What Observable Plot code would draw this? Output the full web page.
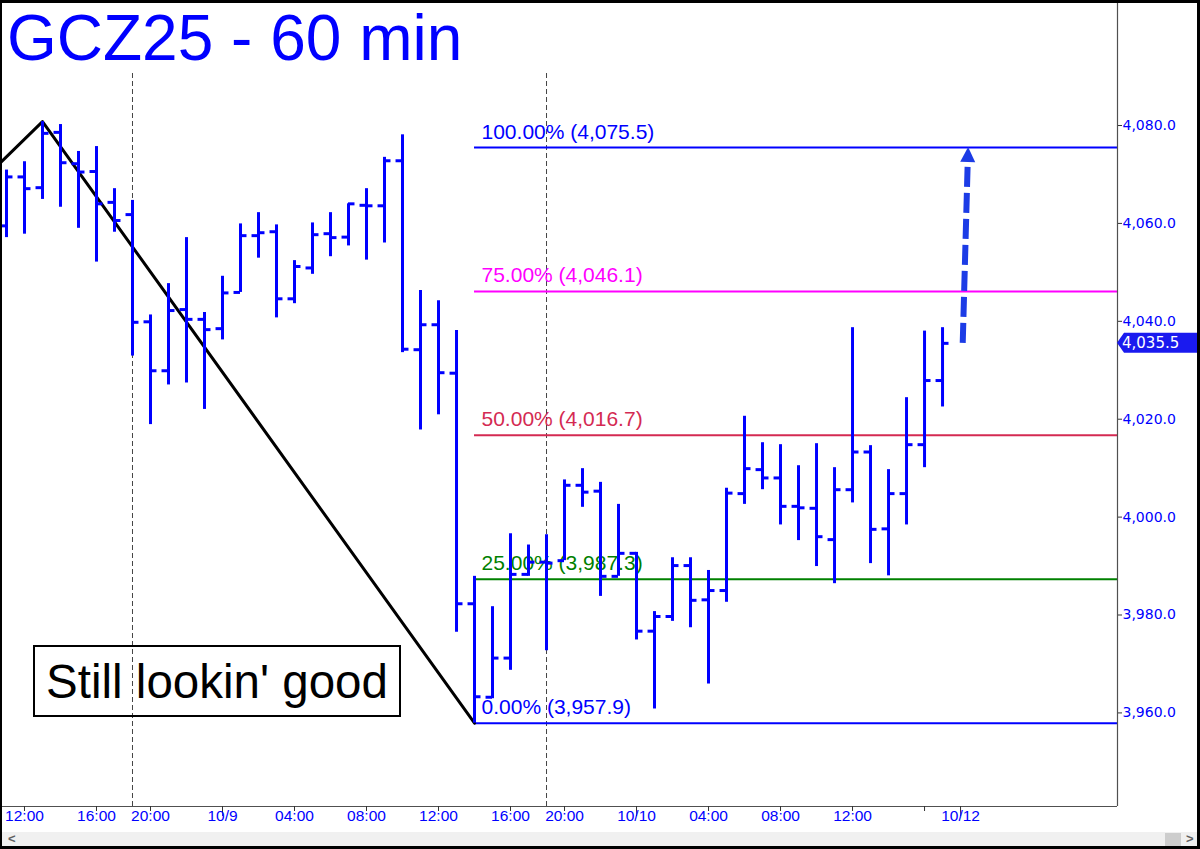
<!DOCTYPE html>
<html><head><meta charset="utf-8">
<script src="https://cdn.jsdelivr.net/npm/d3@7"></script>
<script src="https://cdn.jsdelivr.net/npm/@observablehq/plot@0.6"></script>
<style>
html,body{margin:0;padding:0;background:#fff;}
#wrap{position:relative;width:1200px;height:849px;overflow:hidden;font-family:"Liberation Sans",Arial,sans-serif;background:#fff;}
#chart{position:absolute;left:0;top:0;}
#title{position:absolute;left:7px;top:6px;font-size:64px;line-height:1;color:#0000ff;white-space:nowrap;}
#note{position:absolute;left:33px;top:645px;width:368px;height:72px;box-sizing:border-box;border:2px solid #000;display:flex;align-items:center;justify-content:center;font-size:47.5px;color:#000;white-space:nowrap;}
#scroll{position:absolute;left:0;top:832px;width:1200px;height:17px;background:#f0f0f0;}
#scroll .l{position:absolute;left:8px;top:-1px;font-size:13px;color:#606060;font-weight:bold;}
#scroll .r{position:absolute;left:1186px;top:-1px;font-size:13px;color:#606060;font-weight:bold;}
#scroll .thumb{position:absolute;left:1165px;top:1px;width:16px;height:13px;background:#cdcdcd;}
#border{position:absolute;left:0;top:0;width:1200px;height:849px;box-sizing:border-box;border:2px solid #000;border-top-width:3px;border-right-width:3px;border-bottom-width:3px;pointer-events:none;}
</style></head>
<body>
<div id="wrap">
  <div id="chart"></div>
  <div id="title">GCZ25 - 60 min</div>
  <div id="note">Still lookin' good</div>
  <div id="scroll"><span class="l">&lt;</span><div class="thumb"></div><span class="r">&gt;</span></div>
  <div id="border"></div>
</div>
<script>
// ---- Data (hourly OHLC, GCZ25) ----
const opens = [
  4059.5,4069.5,4067.3,4078.6,4072.2,4070.6,4064.3,4061.8,4039.9,4029.9,
  4042.4,4040.4,4038.5,4045.9,4057.5,4058.3,4044.6,4050.9,4057.9,4057.2,
  4063.7,4063.6,4072.8,4034.2,4039.3,4029.4,3982.3,3963.2,3971.2,3988.3,
  3990.8,3991.1,4006.5,4005.3,3987.9,3992.6,3976.7,3979.7,3990.1,3983.1,
  3985.0,4004.8,4009.7,4008.0,4002.2,4001.8,3995.4,4005.6,4013.3,3997.6,
  4004.8,4014.8,4027.9];
const highs = [
  4070.9,4072.6,4080.8,4080.2,4074.7,4075.7,4067.1,4064.7,4041.3,4047.7,
  4057.1,4041.8,4049.2,4059.9,4062.2,4059.7,4052.4,4060.1,4062.2,4064.0,
  4067.1,4073.5,4078.1,4046.3,4044.2,4038.1,3987.9,3981.7,3996.6,3994.3,
  3996.4,4007.6,4009.9,4007.1,4002.6,3992.8,3980.7,3991.7,3991.7,3989.1,
  4005.9,4020.6,4015.2,4014.8,4010.5,4015.0,4010.1,4038.7,4014.6,4009.7,
  4024.4,4038.0,4038.7];
const lows = [
  4057.1,4057.8,4064.9,4063.3,4059.0,4052.1,4058.2,4032.9,4018.9,4027.0,
  4027.4,4022.0,4036.2,4045.9,4052.9,4040.7,4043.6,4049.6,4053.2,4055.4,
  4052.5,4056.0,4033.6,4017.8,4020.9,3976.5,3957.9,3962.9,3968.7,3987.9,
  3972.7,3991.1,4002.0,3983.8,3987.9,3974.9,3960.8,3978.7,3977.4,3965.9,
  3982.6,4002.6,4005.6,3998.4,3995.2,3989.9,3986.4,4002.9,3990.5,3988.0,
  3998.4,4010.1,4022.5];
const closes = [
  4069.5,4067.1,4078.4,4072.4,4070.5,4064.0,4060.6,4039.8,4029.9,4042.2,
  4040.4,4038.3,4045.8,4057.5,4058.1,4044.6,4051.2,4057.7,4057.1,4064.0,
  4063.6,4072.8,4034.3,4039.3,4029.5,3982.3,3963.3,3971.2,3988.3,3990.8,
  3990.6,4006.5,4005.1,3987.9,3992.6,3976.7,3979.7,3990.1,3983.0,3985.0,
  4004.9,4009.9,4008.0,4002.2,4001.9,3996.0,4005.6,4013.3,3997.5,4004.8,
  4014.8,4027.9,4035.5];

// x-axis (bar index) ticks and labels
const tickIdx    = [1, 5, 8, 12, 16, 20, 24, 28, 31, 35, 39, 43, 47, 51, 53];
const tickLabels = ["12:00","16:00","20:00","10/9","04:00","08:00","12:00","16:00","20:00","10/10","04:00","08:00","12:00","","10/12"];
const dayTickIdx = [12, 35, 53];
const sessionBreaks = [7, 30];

// y-axis ticks
const yTicks = [3960, 3980, 4000, 4020, 4040, 4060, 4080];

// Fibonacci retracement from swing low (bar 26) to target
const fibPct   = [100, 75, 50, 25, 0];
const fibValue = [4075.5, 4046.1, 4016.7, 3987.3, 3957.9];
const fibStart = 26;

// zigzag pivots (bar index, price)
const zigIdx   = [-0.333, 2, 26];
const zigPrice = [4072.4, 4080.8, 3957.9];

// projected move arrow (bar index, price)
const arrowIdx   = [53.15, 53.45];
const arrowPrice = [4035.5, 4075.5];

// ---- Styles ----
const BLUE = "#0000ff";
const fibColors = {100: "#0000ff", 75: "#ff00ff", 50: "#d42a52", 25: "#008000", 0: "#0000ff"};
const xDomain = [-0.333, 61.72];
const yDomain = [3940.88, 4105.54];

const bars = opens.map((o, i) => ({i, o, h: highs[i], l: lows[i], c: closes[i]}));
const fibs = fibPct.map((p, k) => ({p, v: fibValue[k]}));
const zig = zigIdx.map((i, k) => ({i, v: zigPrice[k]}));
const xTicks = tickIdx.map((t, k) => ({t, label: tickLabels[k]}));
const fmt = d3.format(",.1f");
const shortTicks = tickIdx.filter(t => !dayTickIdx.includes(t));

function arrowMark(index, scales) {
  const x1 = scales.x(arrowIdx[0]), y1 = scales.y(arrowPrice[0]);
  const x2 = scales.x(arrowIdx[1]), y2 = scales.y(arrowPrice[1]);
  const dx = x2 - x1, dy = y2 - y1, len = Math.hypot(dx, dy);
  const ux = dx / len, uy = dy / len, hl = 15, hw = 7.5;
  const bx = x2 - ux * hl, by = y2 - uy * hl;
  const g = d3.create("svg:g");
  g.append("line").attr("x1", x1).attr("y1", y1).attr("x2", bx).attr("y2", by)
    .attr("stroke", "#1c3ce6").attr("stroke-width", 6).attr("stroke-dasharray", "20,6");
  g.append("path")
    .attr("d", `M${x2},${y2}L${bx - uy * hw},${by + ux * hw}L${bx + uy * hw},${by - ux * hw}Z`)
    .attr("fill", "#1c3ce6");
  return g.node();
}

function lastPriceMark(index, scales, values, dims) {
  const last = closes[closes.length - 1];
  const y = scales.y(last);
  const x0 = dims.width - dims.marginRight;
  const g = d3.create("svg:g");
  g.append("path")
    .attr("d", `M${x0},${y}L${x0 + 7},${y - 10}L${x0 + 80},${y - 10}L${x0 + 80},${y + 10}L${x0 + 7},${y + 10}Z`)
    .attr("fill", "#1a1aef");
  g.append("text").attr("x", x0 + 5).attr("y", y).attr("dy", "0.36em")
    .attr("text-anchor", "start").attr("font-family", "'DejaVu Sans', Verdana, sans-serif")
    .attr("fill", "#fff").attr("font-size", 15).text(fmt(last));
  return g.node();
}

const chart = Plot.plot({
  width: 1200, height: 832,
  marginLeft: 0, marginRight: 83, marginTop: 0, marginBottom: 26,
  x: {domain: xDomain, label: null},
  y: {domain: yDomain, label: null},
  style: {background: "#fff", fontFamily: "'Liberation Sans', Arial, sans-serif", overflow: "visible"},
  marks: [
    Plot.ruleX(sessionBreaks, {x: d => d, insetTop: 73, stroke: "#444", strokeDasharray: "5,3", strokeWidth: 1}),
    Plot.ruleY(fibs, {y: "v", x1: () => fibStart, x2: () => xDomain[1], stroke: d => fibColors[d.p], strokeWidth: 2}),
    Plot.text(fibs, {x: () => fibStart, y: "v", dx: 7, dy: -9, text: d => `${d.p.toFixed(2)}% (${fmt(d.v)})`,
      fill: d => fibColors[d.p], textAnchor: "start", lineAnchor: "bottom", fontSize: 21}),
    Plot.line(zig, {x: "i", y: "v", stroke: "#000", strokeWidth: 3}),
    Plot.ruleX(bars, {x: "i", y1: "l", y2: "h", stroke: BLUE, strokeWidth: 3}),
    Plot.ruleY(bars, {y: "o", x1: d => d.i - 0.36, x2: d => d.i, stroke: BLUE, strokeWidth: 3}),
    Plot.ruleY(bars, {y: "c", x1: d => d.i, x2: d => d.i + 0.36, stroke: BLUE, strokeWidth: 3}),
    arrowMark,
    Plot.ruleX([xDomain[1]], {x: d => d, stroke: "#505050", strokeWidth: 1.2}),
    Plot.ruleY([yDomain[0]], {y: d => d, stroke: "#505050", strokeWidth: 1.2}),
    // axis ticks (library axes), labels drawn as text marks for exact font size
    Plot.axisY({anchor: "right", ticks: yTicks, tickSize: 4, fill: "none", stroke: "#333", label: null}),
    Plot.axisX({ticks: shortTicks, tickSize: 5, fill: "none", stroke: "#333", label: null}),
    Plot.axisX({ticks: dayTickIdx, tickSize: 10, fill: "none", stroke: "#333", label: null}),
    Plot.text(yTicks, {y: d => d, frameAnchor: "right", dx: 5, text: d => fmt(d), textAnchor: "start",
      fill: BLUE, fontSize: 14, fontFamily: "'DejaVu Sans', Verdana, sans-serif"}),
    Plot.text(xTicks, {x: "t", frameAnchor: "bottom", dy: 14, text: "label", textAnchor: "middle",
      fill: BLUE, fontSize: 15.5}),
    lastPriceMark
  ]
});
document.getElementById("chart").appendChild(chart);
</script>
</body></html>
